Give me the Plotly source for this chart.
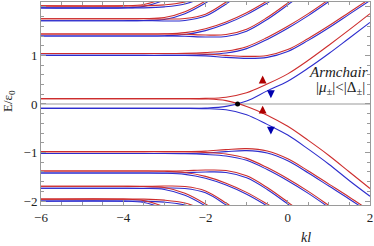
import plotly.graph_objects as go

# kl grid shared by all curves
kl = [-6, -4, -3.5, -3, -2.5, -2, -1.5, -1, -0.5, 0, 0.5, 1, 1.5, 2]

# zero-energy branches
R0_up = [0.11, 0.11, 0.11, 0.11, 0.11, 0.115, 0.14, 0.23, 0.41, 0.62, 0.9, 1.21, 1.53, 1.86]
B0_up = [-0.09, -0.09, -0.09, -0.09, -0.09, -0.085, -0.05, 0.06, 0.27, 0.47, 0.74, 1.04, 1.36, 1.68]
R0_dn = [0.11, 0.11, 0.11, 0.11, 0.11, 0.105, 0.07, -0.05, -0.23, -0.46, -0.75, -1.06, -1.4, -1.74]
B0_dn = [-0.09, -0.09, -0.09, -0.09, -0.09, -0.095, -0.12, -0.22, -0.42, -0.64, -0.93, -1.24, -1.58, -1.9]

# positive Landau levels (red = spin up, blue = spin down), two branches A/B
L1A_r = [1.04, 1.04, 1.04, 1.04, 1.045, 1.06, 1.09, 1.18, 1.37, 1.6, 1.86, 2.15, 2.45, 2.75]
L1A_b = [1.0, 1.0, 1.0, 1.0, 1.005, 1.02, 1.05, 1.14, 1.33, 1.56, 1.82, 2.11, 2.41, 2.71]
L1B_r = [1.04, 1.04, 1.04, 1.04, 1.04, 1.03, 1.0, 0.98, 1.0, 1.12, 1.35, 1.61, 1.89, 2.17]
L1B_b = [1.0, 1.0, 1.0, 1.0, 1.0, 0.99, 0.96, 0.94, 0.96, 1.08, 1.31, 1.57, 1.85, 2.13]
L2A_r = [1.44, 1.44, 1.44, 1.445, 1.47, 1.55, 1.69, 1.88, 2.12, 2.38, 2.66, 2.95, 3.25, 3.55]
L2A_b = [1.40, 1.40, 1.40, 1.405, 1.43, 1.51, 1.65, 1.84, 2.08, 2.34, 2.62, 2.91, 3.21, 3.51]
L2B_r = [1.44, 1.44, 1.44, 1.44, 1.435, 1.42, 1.43, 1.54, 1.78, 2.08, 2.4, 2.72, 3.05, 3.38]
L2B_b = [1.40, 1.40, 1.40, 1.40, 1.395, 1.38, 1.39, 1.50, 1.74, 2.04, 2.36, 2.68, 3.01, 3.34]
L3A_r = [1.755, 1.755, 1.76, 1.78, 1.9, 2.12, 2.4, 2.7, 3.0, 3.3, 3.6, 3.9, 4.2, 4.5]
L3A_b = [1.715, 1.715, 1.72, 1.74, 1.86, 2.08, 2.36, 2.66, 2.96, 3.26, 3.56, 3.86, 4.16, 4.46]
L3B_r = [1.755, 1.755, 1.755, 1.75, 1.76, 1.85, 2.1, 2.4, 2.7, 3.0, 3.3, 3.6, 3.9, 4.2]
L3B_b = [1.715, 1.715, 1.715, 1.71, 1.72, 1.81, 2.06, 2.36, 2.66, 2.96, 3.26, 3.56, 3.86, 4.16]
L4A_r = [2.02, 2.02, 2.05, 2.18, 2.4, 2.65, 2.9, 3.15, 3.4, 3.65, 3.9, 4.15, 4.4, 4.65]
L4A_b = [1.98, 1.98, 2.01, 2.14, 2.36, 2.61, 2.86, 3.11, 3.36, 3.61, 3.86, 4.11, 4.36, 4.61]
L4B_r = [2.02, 2.02, 2.02, 2.04, 2.1, 2.25, 2.45, 2.7, 2.95, 3.2, 3.45, 3.7, 3.95, 4.2]
L4B_b = [1.98, 1.98, 1.98, 2.0, 2.06, 2.21, 2.41, 2.66, 2.91, 3.16, 3.41, 3.66, 3.91, 4.16]

# negative Landau levels
N1A_r = [-0.98, -0.98, -0.98, -0.98, -0.985, -1.0, -1.03, -1.12, -1.31, -1.54, -1.8, -2.09, -2.39, -2.69]
N1A_b = [-1.02, -1.02, -1.02, -1.02, -1.025, -1.04, -1.07, -1.16, -1.35, -1.58, -1.84, -2.13, -2.43, -2.73]
N1B_r = [-0.98, -0.98, -0.98, -0.98, -0.98, -0.97, -0.94, -0.92, -0.97, -1.13, -1.38, -1.65, -1.92, -2.2]
N1B_b = [-1.02, -1.02, -1.02, -1.02, -1.02, -1.01, -0.98, -0.96, -1.01, -1.17, -1.42, -1.69, -1.96, -2.24]
N2A_r = [-1.38, -1.38, -1.38, -1.385, -1.41, -1.49, -1.63, -1.82, -2.06, -2.32, -2.6, -2.89, -3.19, -3.49]
N2A_b = [-1.42, -1.42, -1.42, -1.425, -1.45, -1.53, -1.67, -1.86, -2.1, -2.36, -2.64, -2.93, -3.23, -3.53]
N2B_r = [-1.38, -1.38, -1.38, -1.38, -1.375, -1.36, -1.37, -1.48, -1.72, -2.02, -2.34, -2.66, -2.99, -3.32]
N2B_b = [-1.42, -1.42, -1.42, -1.42, -1.415, -1.40, -1.41, -1.52, -1.76, -2.06, -2.38, -2.70, -3.03, -3.36]
N3A_r = [-1.695, -1.695, -1.70, -1.72, -1.84, -2.06, -2.34, -2.64, -2.94, -3.24, -3.54, -3.84, -4.14, -4.44]
N3A_b = [-1.735, -1.735, -1.74, -1.76, -1.88, -2.10, -2.38, -2.68, -2.98, -3.28, -3.58, -3.88, -4.18, -4.48]
N3B_r = [-1.695, -1.695, -1.695, -1.69, -1.70, -1.79, -2.04, -2.34, -2.64, -2.94, -3.24, -3.54, -3.84, -4.14]
N3B_b = [-1.735, -1.735, -1.735, -1.73, -1.74, -1.83, -2.08, -2.38, -2.68, -2.98, -3.28, -3.58, -3.88, -4.18]
N4A_r = [-1.96, -1.96, -1.99, -2.12, -2.34, -2.59, -2.84, -3.09, -3.34, -3.59, -3.84, -4.09, -4.34, -4.59]
N4A_b = [-2.0, -2.0, -2.03, -2.16, -2.38, -2.63, -2.88, -3.13, -3.38, -3.63, -3.88, -4.13, -4.38, -4.63]
N4B_r = [-1.96, -1.96, -1.96, -1.98, -2.04, -2.19, -2.39, -2.64, -2.89, -3.14, -3.39, -3.64, -3.89, -4.14]
N4B_b = [-2.0, -2.0, -2.0, -2.02, -2.08, -2.23, -2.43, -2.68, -2.93, -3.18, -3.43, -3.68, -3.93, -4.18]

# spin arrows (tip positions) and crossing point
arrow_up_x = [-0.61, -0.61]
arrow_up_y = [0.585, -0.035]
arrow_dn_x = [-0.41, -0.41]
arrow_dn_y = [0.12, -0.63]
cross_x = [-1.22]
cross_y = [0.0]

RED = "rgb(205,45,45)"
BLUE = "rgb(45,45,205)"
ARROW_RED = "rgb(175,0,0)"
ARROW_BLUE = "rgb(0,0,175)"

blue_curves = [B0_up, B0_dn, L1A_b, L1B_b, L2A_b, L2B_b, L3A_b, L3B_b, L4A_b, L4B_b,
               N1A_b, N1B_b, N2A_b, N2B_b, N3A_b, N3B_b, N4A_b, N4B_b]
red_curves = [R0_up, R0_dn, L1A_r, L1B_r, L2A_r, L2B_r, L3A_r, L3B_r, L4A_r, L4B_r,
              N1A_r, N1B_r, N2A_r, N2B_r, N3A_r, N3B_r, N4A_r, N4B_r]

fig = go.Figure()
for ys in blue_curves:
    fig.add_trace(go.Scatter(x=kl, y=ys, mode="lines", line=dict(color=BLUE, width=1.1, shape="spline"),
                             showlegend=False, hoverinfo="skip"))
for ys in red_curves:
    fig.add_trace(go.Scatter(x=kl, y=ys, mode="lines", line=dict(color=RED, width=1.1, shape="spline"),
                             showlegend=False, hoverinfo="skip"))

fig.add_trace(go.Scatter(x=cross_x, y=cross_y, mode="markers",
                         marker=dict(symbol="circle", size=5, color="black"),
                         showlegend=False, hoverinfo="skip"))

L, R, T, B = 41, 4, 2, 41
W, H = 374, 246
pw, ph = W - L - R, H - T - B

def px(x):
    return (x - L) / pw

def py(y):
    return (H - B - y) / ph

FONT = "Liberation Serif, Times New Roman, serif"
FRAME = "#9a9a9a"

annotations = [
    dict(text="E/ε<sub>0</sub>", xref="paper", yref="paper", x=px(9), y=py(101),
         showarrow=False, textangle=-90, font=dict(family=FONT, size=13, color="#222"),
         xanchor="center", yanchor="middle"),
    dict(text="<i>kl</i>", xref="paper", yref="paper", x=px(306), y=py(237),
         showarrow=False, font=dict(family=FONT, size=14, color="#222"),
         xanchor="center", yanchor="middle"),
    dict(text="<i>Armchair</i>", xref="paper", yref="paper", x=px(370), y=py(72),
         showarrow=False, font=dict(family=FONT, size=15, color="#222"),
         xanchor="right", yanchor="middle"),
    dict(text="|<i>μ</i><sub>±</sub>|&lt;|Δ<sub>±</sub>|", xref="paper", yref="paper",
         x=px(367), y=py(88), showarrow=False, font=dict(family=FONT, size=15, color="#222"),
         xanchor="right", yanchor="middle"),
]
for xa, ya in zip(arrow_up_x, arrow_up_y):
    annotations.append(dict(x=xa, y=ya, xref="x", yref="y", ax=0, ay=9, text="",
                            showarrow=True, arrowhead=2, arrowsize=1.2, arrowwidth=1.3,
                            arrowcolor=ARROW_RED, standoff=0))
for xa, ya in zip(arrow_dn_x, arrow_dn_y):
    annotations.append(dict(x=xa, y=ya, xref="x", yref="y", ax=0, ay=-9, text="",
                            showarrow=True, arrowhead=2, arrowsize=1.2, arrowwidth=1.3,
                            arrowcolor=ARROW_BLUE, standoff=0))

fig.update_layout(
    width=W, height=H, margin=dict(l=L, r=R, t=T, b=B),
    paper_bgcolor="white", plot_bgcolor="white",
    font=dict(family=FONT, size=13, color="#222"),
    xaxis=dict(range=[-6, 2], tickmode="linear", tick0=0, dtick=2, ticks="inside", ticklen=5,
               tickcolor=FRAME, showline=True, linecolor=FRAME, linewidth=1, mirror="allticks",
               showgrid=False, zeroline=False,
               minor=dict(dtick=0.5, tick0=0, ticks="inside", ticklen=3, tickcolor=FRAME, showgrid=False),
               tickfont=dict(family=FONT, size=13, color="#222")),
    yaxis=dict(range=[-2.08, 2.1], tickmode="linear", tick0=0, dtick=1, ticks="inside", ticklen=5,
               tickcolor=FRAME, showline=True, linecolor=FRAME, linewidth=1, mirror="allticks",
               showgrid=False, zeroline=True, zerolinecolor="#cccccc", zerolinewidth=2,
               minor=dict(dtick=0.2, tick0=0, ticks="inside", ticklen=3, tickcolor=FRAME, showgrid=False),
               tickfont=dict(family=FONT, size=13, color="#222")),
    annotations=annotations,
)

fig.write_html("out.html", config={"displayModeBar": False},
               post_script="document.body.style.margin='0px';document.body.style.padding='0px';")
